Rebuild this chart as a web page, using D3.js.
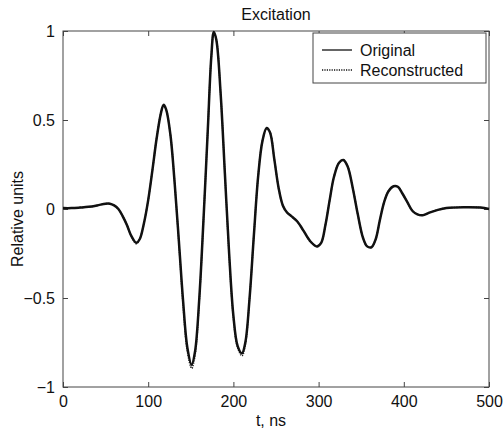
<!DOCTYPE html>
<html>
<head>
<meta charset="utf-8">
<style>
  body { margin: 0; background: #fff; }
  text { font-family: "Liberation Sans", Arial, sans-serif; fill: #111; }
</style>
</head>
<body>
<div id="viz_area"></div>
<script src="https://d3js.org/d3.v7.min.js"></script>
<script>
// data
var tNs = [0, 10, 20, 30, 40, 50, 55, 60, 65, 70, 75, 80, 86, 90, 95, 100, 105, 110, 115, 118,
  121, 126, 131, 136, 141, 146, 151, 155, 160, 165, 170, 174, 177, 180, 185, 190, 195, 200, 205, 210,
  214, 219, 224, 229, 234, 239, 243, 248, 253, 258, 263, 268, 275, 282, 290, 298, 303, 308, 313, 318,
  324, 329, 334, 340, 346, 352, 357, 362, 367, 372, 377, 382, 388, 393, 398, 404, 410, 416, 422, 430,
  440, 450, 470, 490, 500];
var original = [0.005, 0.005, 0.008, 0.012, 0.02, 0.03, 0.03, 0.02, 0.0, -0.04, -0.09, -0.15, -0.19, -0.17, -0.08, 0.05, 0.22, 0.40, 0.54, 0.585,
  0.56, 0.42, 0.15, -0.18, -0.52, -0.78, -0.875, -0.80, -0.50, -0.05, 0.45, 0.85, 0.995, 0.95, 0.65, 0.20, -0.25, -0.60, -0.77, -0.81,
  -0.75, -0.50, -0.15, 0.18, 0.38, 0.455, 0.43, 0.28, 0.12, 0.02, -0.02, -0.04, -0.07, -0.12, -0.18, -0.21, -0.19, -0.09, 0.05, 0.18,
  0.26, 0.275, 0.24, 0.12, -0.03, -0.16, -0.21, -0.215, -0.17, -0.06, 0.04, 0.10, 0.128, 0.125, 0.09, 0.04, -0.01, -0.03, -0.035, -0.02,
  -0.005, 0.005, 0.01, 0.008, 0.0];
var reconstructed = [0.005, 0.005, 0.008, 0.012, 0.02, 0.03, 0.03, 0.02, 0.0, -0.04, -0.09, -0.15, -0.195, -0.17, -0.08, 0.05, 0.22, 0.40, 0.54, 0.58,
  0.56, 0.42, 0.15, -0.19, -0.54, -0.80, -0.895, -0.82, -0.51, -0.05, 0.45, 0.85, 0.99, 0.95, 0.65, 0.20, -0.26, -0.61, -0.78, -0.825,
  -0.76, -0.50, -0.15, 0.18, 0.38, 0.45, 0.43, 0.28, 0.12, 0.02, -0.02, -0.04, -0.07, -0.12, -0.18, -0.21, -0.19, -0.09, 0.05, 0.18,
  0.26, 0.275, 0.24, 0.12, -0.03, -0.16, -0.21, -0.215, -0.17, -0.06, 0.04, 0.10, 0.128, 0.125, 0.09, 0.04, -0.01, -0.03, -0.035, -0.02,
  -0.005, 0.005, 0.01, 0.008, 0.0];
var xTicks = [0, 100, 200, 300, 400, 500];
var yTicks = [-1, -0.5, 0, 0.5, 1];
var seriesNames = ["Original", "Reconstructed"];

var margin = {top: 31, right: 14, bottom: 45, left: 63},
    width = 503 - margin.left - margin.right,
    height = 432 - margin.top - margin.bottom;

var svg = d3.select("#viz_area")
  .append("svg")
  .attr("width", 503)
  .attr("height", 432);

var g = svg.append("g")
  .attr("transform", "translate(" + margin.left + "," + margin.top + ")");

var x = d3.scaleLinear().domain([0, 500]).range([0, width]);
var y = d3.scaleLinear().domain([-1, 1]).range([height, 0]);

// axes, ticks pointing inward on all four sides
function styleAxis(sel) {
  sel.select(".domain").remove();
  sel.selectAll(".tick line").attr("stroke", "#444");
  sel.selectAll(".tick text").style("font-size", "16px").attr("fill", "#111");
}
var fmt = function(d) { return d3.format("")(d); };

g.append("g").attr("transform", "translate(0," + height + ")")
  .call(d3.axisBottom(x).tickValues(xTicks).tickSize(-5).tickPadding(9).tickFormat(fmt))
  .call(styleAxis);
g.append("g")
  .call(d3.axisTop(x).tickValues(xTicks).tickSize(-5).tickFormat(""))
  .call(styleAxis);
g.append("g")
  .call(d3.axisLeft(y).tickValues(yTicks).tickSize(-5).tickPadding(8).tickFormat(fmt))
  .call(styleAxis);
g.append("g").attr("transform", "translate(" + width + ",0)")
  .call(d3.axisRight(y).tickValues(yTicks).tickSize(-5).tickFormat(""))
  .call(styleAxis);

g.append("rect")
  .attr("width", width).attr("height", height)
  .attr("fill", "none").attr("stroke", "#444").attr("stroke-width", 1);

// curves
var pts = function(vals) { return tNs.map(function(t, i) { return [t, vals[i]]; }); };
var line = d3.line()
  .x(function(d) { return x(d[0]); })
  .y(function(d) { return y(d[1]); })
  .curve(d3.curveCatmullRom.alpha(0.5));

g.append("path").datum(pts(reconstructed))
  .attr("d", line).attr("fill", "none")
  .attr("stroke", "#222").attr("stroke-width", 1.6).attr("stroke-dasharray", "1.2,1.2");
g.append("path").datum(pts(original))
  .attr("d", line).attr("fill", "none")
  .attr("stroke", "#111").attr("stroke-width", 2.5);

// legend
var lg = svg.append("g").attr("transform", "translate(313,33)");
lg.append("rect").attr("width", 173).attr("height", 50)
  .attr("fill", "#fff").attr("stroke", "#444");
seriesNames.forEach(function(name, i) {
  var yy = 17 + i * 20;
  lg.append("line").attr("x1", 9).attr("x2", 39).attr("y1", yy).attr("y2", yy)
    .attr("stroke", "#111")
    .attr("stroke-width", 1.3)
    .attr("stroke-dasharray", i === 0 ? null : "1.2,1.2");
  lg.append("text").attr("x", 47).attr("y", yy + 6).style("font-size", "16px").text(name);
});

// titles
svg.append("text").attr("x", margin.left + width / 2).attr("y", 20)
  .attr("text-anchor", "middle").style("font-size", "16px").text("Excitation");
svg.append("text").attr("x", margin.left + width / 2 - 5).attr("y", 426)
  .attr("text-anchor", "middle").style("font-size", "16px").text("t, ns");
svg.append("text")
  .attr("transform", "translate(23," + 219 + ") rotate(-90)")
  .attr("text-anchor", "middle").style("font-size", "16px").text("Relative units");
</script>
</body>
</html>
